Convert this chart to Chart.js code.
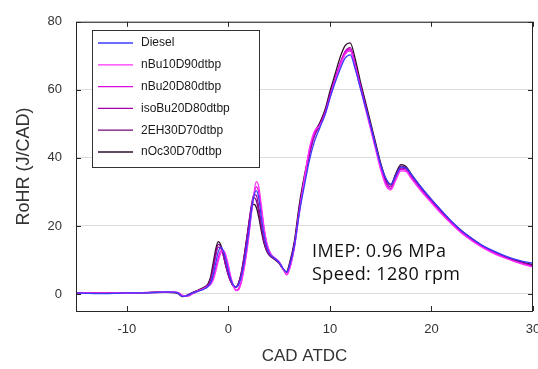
<!DOCTYPE html>
<html>
<head>
<meta charset="utf-8">
<script src="https://cdn.jsdelivr.net/npm/chart.js@4.4.1/dist/chart.umd.min.js"></script>
<style>
	body { margin: 0; background: #fff; }
	canvas { display: block; }
</style>
</head>
<body>
<canvas id="rohr" width="538" height="369"></canvas>
<script>
// crank angle grid (deg ATDC), shared by all series
const cad = [-15,-14,-13,-12,-11,-10,-9,-8,-7,-6,-5,
	-4.5,-4,-3.5,-3,-2.5,
	-2,-1.75,-1.5,-1.25,-1,-0.75,-0.5,-0.25,0,0.25,0.5,0.75,1,1.25,1.5,1.75,2,2.25,2.5,2.75,3,3.25,3.5,3.75,4,4.25,4.5,4.75,5,5.25,5.5,5.75,6,
	6.5,7,7.5,8,8.5,9,9.5,10,10.5,11,11.5,12,12.5,13,13.5,14,14.5,15,15.5,16,16.5,17,17.5,18,
	19,20,21,22,23,24,25,26,27,28,29,30];

// RoHR (J/CAD) per fuel
const diesel = [0.3,0.2,0.1,0.1,0.2,0.3,0.3,0.3,0.5,0.6,0.3,
	-0.7,-0.4,0.3,0.8,1.3,
	2.2,3.2,5.5,9,12.3,13.7,12.8,10,6.8,4.2,2.6,2,2.6,4.8,8.3,12.8,18,24,28.5,30.4,28.2,22.5,17.5,14.2,12.2,11.2,10.6,10,9.3,8.2,7,6.4,8,
	14,24,32,39.5,45,48.8,52.5,57.5,62,66,69.3,70.3,66,60.5,55,49.5,43.5,38,34,32.2,34.8,37.3,37,35.2,
	31.3,27.8,24.5,21.3,18.5,16.3,14.3,12.8,11.5,10.4,9.6,9];
const nBu10D90 = [0.2,0.3,0.2,0.2,0.3,0.2,0.4,0.4,0.5,0.7,0.4,
	-0.5,-0.5,0.2,0.9,1.5,
	2.3,2.8,4,6.5,9.5,12,12.8,11.5,8.5,5,2.5,1,1.2,3,6.5,11,16.5,23,29,33,31.5,26,20,15.5,13,11.5,10.8,10.2,9.5,8.2,6.8,5.6,7,
	13.5,24,34,43,48,49.5,52.5,57.5,62.5,67,70.5,71.6,66.5,60.5,54.5,48.5,42.5,36.5,32,30.6,33.5,36.2,36,34,
	30.2,26.8,23.5,20.5,17.8,15.6,13.7,12.1,10.8,9.7,8.7,7.9];
const nBu20D80 = [0.3,0.2,0.3,0.2,0.2,0.3,0.3,0.5,0.4,0.6,0.5,
	-0.4,-0.6,0.1,0.8,1.4,
	2.2,3,4.5,7.5,10.5,12.6,12.6,10.8,7.8,4.6,2.3,1.1,1.5,3.4,7,11.5,17,23.5,28.8,31.5,30,25,19.5,15.2,12.8,11.4,10.7,10.1,9.4,8.1,6.7,5.7,7.2,
	13.8,24.5,34,42.5,47.5,49.5,53,58,63,67.5,71,72,67,61,55,49,43,37,32.5,31,34,36.6,36.3,34.3,
	30.5,27,23.7,20.7,18,15.8,13.9,12.3,11,9.8,8.9,8.1];
const isoBu20D80 = [0.4,0.3,0.2,0.3,0.3,0.2,0.4,0.4,0.6,0.5,0.4,
	-0.6,-0.3,0.4,1,1.5,
	2.6,4,7,11,13.8,13.5,11.3,8.2,5.5,3.5,2.3,2,3,5.5,9.5,14.5,20,25.5,29.2,29,25.5,20.5,16,13.3,11.8,11,10.5,9.9,9.2,8,6.9,6.3,8.2,
	14.5,25,33.5,41,46.5,49.5,53,58.3,63.2,67.8,71.3,72.4,67.5,61.5,55.5,49.5,43.5,37.5,33,31.5,34.5,37,36.8,34.8,
	31,27.4,24,21,18.2,16,14,12.4,11.1,9.9,9,8.2];
const eh30D70 = [0.3,0.3,0.2,0.2,0.3,0.3,0.3,0.4,0.5,0.6,0.3,
	-0.7,-0.4,0.4,1,1.6,
	2.8,4.5,8,12,14.6,14,11.5,8.3,5.6,3.6,2.4,2.1,3.2,5.8,10,15,20.5,25.5,28.3,27.5,24,19.5,15.5,13,11.6,10.9,10.4,9.8,9.1,8,7,6.5,8.4,
	14.8,25.5,34,41.5,47,50,53.5,58.5,63,67.3,70.6,71.5,67,61.3,55.5,49.8,43.8,38,33.5,32,35.2,37.6,37.2,35,
	31,27.5,24.1,21,18.3,16,14.1,12.5,11.2,10.1,9.2,8.5];
const nOc30D70 = [0.2,0.2,0.3,0.2,0.2,0.4,0.3,0.4,0.5,0.5,0.2,
	-0.8,-0.3,0.5,1.1,1.8,
	3,5,9,13,15.4,14.5,11.8,8.5,5.8,3.8,2.3,2,3.1,5.8,10,15,20,24.5,26.4,25.5,22.5,18.5,15,12.8,11.5,10.8,10.3,9.7,9,7.9,6.9,6.6,8.8,
	15.5,26.5,35,42,47.5,50.3,54,59.5,64.5,69.5,73,73.8,69,62.5,56.5,50.5,44.5,38.5,34,32.2,35.5,38,37.5,35.3,
	31.3,27.7,24.3,21.2,18.5,16.2,14.2,12.6,11.3,10.2,9.3,8.6];

const seriesNames = ['Diesel','nBu10D90dtbp','nBu20D80dtbp','isoBu20D80dtbp','2EH30D70dtbp','nOc30D70dtbp'];
const seriesData = [diesel, nBu10D90, nBu20D80, isoBu20D80, eh30D70, nOc30D70];
const seriesColors = ['#3b3bff','#ff30ff','#dc0adc','#a000a6','#760a76','#2e0f2c'];

const xTicks = [-10, 0, 10, 20, 30];
const yTicks = [0, 20, 40, 60, 80];
const noteLines = ['IMEP: 0.96 MPa', 'Speed: 1280 rpm'];

const axisFont = "'Liberation Sans', Arial, sans-serif";

// box, inner tick marks, legend and note
const framePlugin = {
	id: 'frame',
	afterDraw(chart) {
		let ctx = chart.ctx;
		let a = chart.chartArea;
		let xs = chart.scales.x, ys = chart.scales.y;
		ctx.save();
		ctx.strokeStyle = '#262626';
		ctx.lineWidth = 1;
		ctx.strokeRect(a.left + 0.5, a.top + 0.5, a.right - a.left - 1, a.bottom - a.top);
		ctx.beginPath();
		xTicks.forEach(function(v) {
			let px = Math.round(xs.getPixelForValue(v)) + 0.5;
			ctx.moveTo(px, a.bottom); ctx.lineTo(px, a.bottom - 5);
			ctx.moveTo(px, a.top); ctx.lineTo(px, a.top + 5);
		});
		yTicks.forEach(function(v) {
			let py = Math.round(ys.getPixelForValue(v)) + 0.5;
			ctx.moveTo(a.left, py); ctx.lineTo(a.left + 5, py);
			ctx.moveTo(a.right, py); ctx.lineTo(a.right - 5, py);
		});
		ctx.stroke();

		// legend box
		let lx = 92, ly = 30, lw = 167, lh = 137;
		ctx.fillStyle = '#fff';
		ctx.fillRect(lx, ly, lw, lh);
		ctx.strokeStyle = '#333';
		ctx.strokeRect(lx + 0.5, ly + 0.5, lw, lh);
		ctx.font = '12px ' + axisFont;
		ctx.textBaseline = 'middle';
		ctx.textAlign = 'left';
		seriesNames.forEach(function(name, i) {
			let ry = 43 + i * 21.8;
			ctx.strokeStyle = seriesColors[i];
			ctx.lineWidth = 1.3;
			ctx.beginPath();
			ctx.moveTo(98, ry); ctx.lineTo(133, ry);
			ctx.stroke();
			ctx.fillStyle = '#1a1a1a';
			ctx.fillText(name, 141, ry);
		});

		// operating point note
		ctx.font = "18px 'Open Sans', sans-serif";
		ctx.letterSpacing = '0.4px';
		ctx.textBaseline = 'alphabetic';
		ctx.fillStyle = '#111';
		ctx.fillText(noteLines[0], 312, 257);
		ctx.fillText(noteLines[1], 312, 280);
		ctx.restore();
	}
};

function buildDatasets() {
	return seriesNames.map(function(name, i) {
		return {
			label: name,
			data: cad.map(function(x, j) { return {x: x, y: seriesData[i][j]}; }),
			borderColor: seriesColors[i],
			borderWidth: 1.3,
			pointRadius: 0,
			cubicInterpolationMode: 'monotone',
			fill: false
		};
	});
}

new Chart(document.getElementById('rohr'), {
	type: 'line',
	data: { datasets: buildDatasets() },
	options: {
		responsive: false,
		animation: false,
		layout: { padding: { top: 19, right: 5, left: 0, bottom: 0 } },
		plugins: {
			legend: { display: false },
			tooltip: { enabled: false }
		},
		scales: {
			x: {
				type: 'linear',
				min: -15,
				max: 30,
				afterBuildTicks: function(scale) { scale.ticks = xTicks.map(v => ({value: v})); },
				afterFit: function(scale) { scale.height = 58; scale.paddingLeft = 0; scale.paddingRight = 0; },
				grid: { display: false, drawTicks: false },
				border: { display: false },
				ticks: { padding: 11, color: '#333', font: { family: axisFont, size: 13 }, maxRotation: 0 },
				title: { display: true, text: 'CAD ATDC', color: '#333', font: { family: axisFont, size: 17 }, padding: { top: 0, bottom: 2 } }
			},
			y: {
				min: -5,
				max: 80,
				afterBuildTicks: function(scale) { scale.ticks = yTicks.map(v => ({value: v})); },
				afterFit: function(scale) { scale.width = 76; },
				grid: { color: '#dcdcdc', drawTicks: false },
				border: { display: false },
				ticks: { padding: 14, color: '#333', font: { family: axisFont, size: 13 } },
				title: { display: true, text: 'RoHR (J/CAD)', color: '#333', font: { family: axisFont, size: 18 }, padding: { top: 13, bottom: 0 } }
			}
		}
	},
	plugins: [framePlugin]
});
</script>
</body>
</html>
